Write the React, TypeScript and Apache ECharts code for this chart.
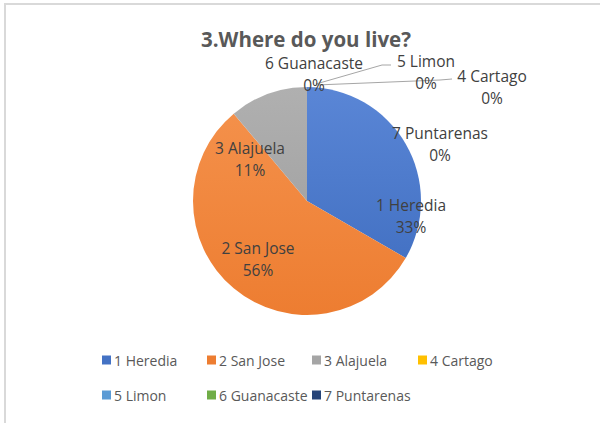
import React, { useEffect, useRef } from "react";
import * as echarts from "echarts";

const categories = ["1 Heredia", "2 San Jose", "3 Alajuela", "4 Cartago", "5 Limon", "6 Guanacaste", "7 Puntarenas"];
const values = [3, 5, 1, 0, 0, 0, 0];
const colors = ["#4472C4", "#ED7D31", "#A5A5A5", "#FFC000", "#5B9BD5", "#70AD47", "#264478"];
const colorsTop = ["#5a86d6", "#f4904a", "#b0b0b0", "#FFC000", "#5B9BD5", "#70AD47", "#264478"];
const titleText = "3.Where do you live?";

// label layout (centers) per category
const labelPos: [number, number][] = [
  [411, 216],
  [258, 259],
  [250, 159],
  [492, 87],
  [426, 72],
  [314, 74],
  [440, 144],
];
const labelLines: (number[][] | null)[] = [
  null,
  null,
  null,
  [[316, 85], [440, 80], [452, 79]],
  [[316, 84], [382, 65], [391, 65]],
  null,
  null,
];
const legendPos: [number, number][] = [
  [102, 362],
  [207, 362],
  [312, 362],
  [418, 362],
  [102, 397],
  [207, 397],
  [312, 397],
];

const FONT = "'Open Sans', 'Noto Sans', sans-serif";

export default function App() {
  const ref = useRef<HTMLDivElement>(null);
  useEffect(() => {
    if (!ref.current) return;
    const chart = echarts.init(ref.current, null, { renderer: "svg" });
    const data = categories.map((name, i) => ({
      name,
      value: values[i],
      itemStyle: {
        color: new echarts.graphic.LinearGradient(0, 0, 0, 1, [
          { offset: 0, color: colorsTop[i] },
          { offset: 1, color: colors[i] },
        ]),
      },
      label: { position: values[i] > 0 ? "inside" : "outside" },
      labelLine: { show: !!labelLines[i] },
    }));
    const legends = categories.map((name, i) => ({
      data: [{ name, itemStyle: { color: colors[i] } }],
      left: legendPos[i][0],
      top: legendPos[i][1] - 9,
      padding: 0,
      itemWidth: 9,
      itemHeight: 9,
      itemGap: 0,
      icon: "rect",
      selectedMode: false,
      textStyle: { fontFamily: FONT, fontSize: 14, color: "#595959", padding: [0, 0, 0, -2] },
    }));
    chart.setOption({
      animation: false,
      color: colors,
      title: {
        text: titleText,
        left: 306,
        top: 28,
        padding: 0,
        textAlign: "center",
        textStyle: { fontFamily: FONT, fontSize: 20.5, lineHeight: 22, fontWeight: "bold", color: "#595959" },
      },
      legend: legends,
      graphic: [
        {
          type: "rect",
          shape: { x: 5, y: 4, width: 700, height: 600 },
          style: { fill: "none", stroke: "#d9d9d9", lineWidth: 2 },
          silent: true,
        },
      ],
      series: [
        {
          type: "pie",
          center: [307, 201],
          radius: 114,
          startAngle: 90,
          clockwise: true,
          percentPrecision: 0,
          avoidLabelOverlap: false,
          data,
          label: {
            formatter: "{b}\n{d}%",
            fontFamily: FONT,
            fontSize: 15.5,
            lineHeight: 22,
            color: "#404040",
          },
          labelLine: { lineStyle: { color: "#a6a6a6", width: 1 }, length: 10, length2: 10 },
          labelLayout: (p: any) => {
            const i = p.dataIndex;
            const r: any = {
              x: labelPos[i][0],
              y: labelPos[i][1],
              align: "center",
              verticalAlign: "middle",
            };
            if (labelLines[i]) r.labelLinePoints = labelLines[i];
            return r;
          },
        },
      ],
    });
    return () => chart.dispose();
  }, []);
  return (
    <div
      ref={ref}
      style={{ position: "fixed", left: 0, top: 0, width: 600, height: 423, background: "#fff" }}
    />
  );
}
